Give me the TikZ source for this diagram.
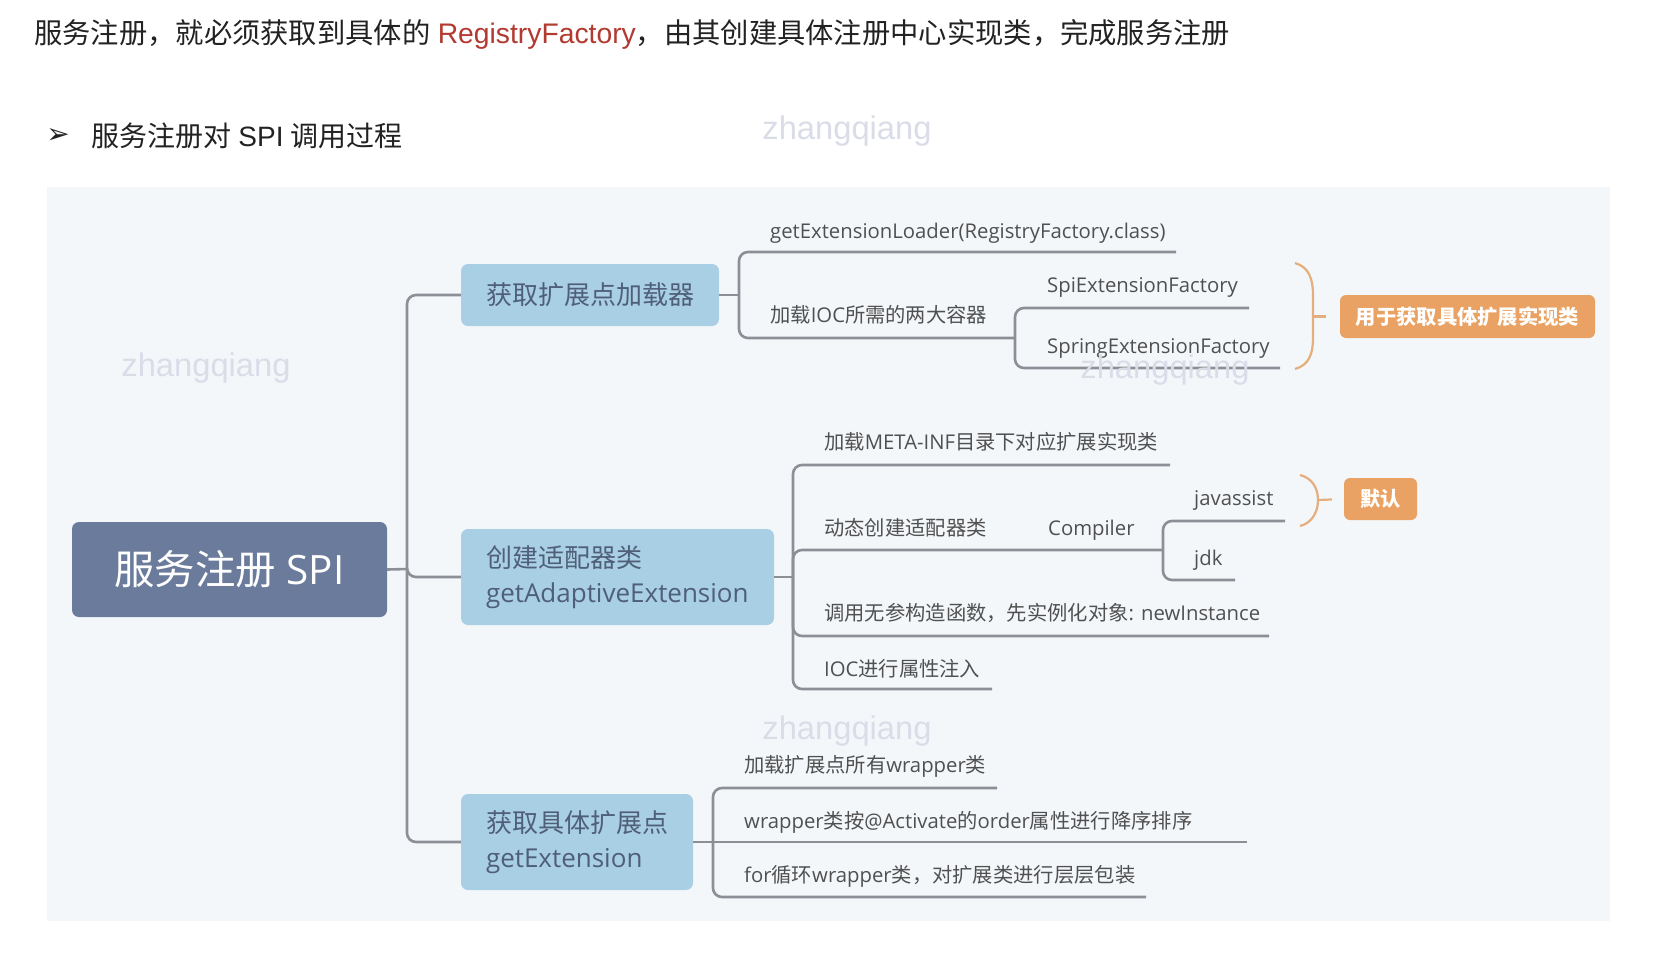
\documentclass[tikz,border=0pt]{standalone}
\usepackage{fontspec}
\setmainfont{Open Sans}
\newfontfamily\cjk{Noto Sans CJK SC}
\newfontfamily\hel{Liberation Sans}
\newfontfamily\dejavu{DejaVu Sans}
\newcommand{\zh}[1]{{\cjk #1}}
\definecolor{panel}{HTML}{F4F7FA}
\definecolor{rootblue}{HTML}{6A7B9B}
\definecolor{lone}{HTML}{A9CFE4}
\definecolor{lonetext}{HTML}{4F5F78}
\definecolor{linegray}{HTML}{8C9096}
\definecolor{leaftext}{HTML}{505050}
\definecolor{orangebox}{HTML}{E9A263}
\definecolor{orangeline}{HTML}{E5AE7E}
\definecolor{regred}{HTML}{B23A30}
\definecolor{titletext}{HTML}{222222}
\definecolor{wm}{HTML}{DADDE8}
\begin{document}
\begin{tikzpicture}[x=1pt,y=-1pt,
  conn/.style={draw=linegray, line width=2.6pt, rounded corners=9pt},
  rootbox/.style={fill=rootblue, rounded corners=7pt, text=white, minimum width=315pt, minimum height=95pt, font=\fontsize{40.4}{46}\selectfont},
  lonebox/.style={fill=lone, rounded corners=7pt, text=lonetext, font=\fontsize{26}{35}\selectfont, align=left, inner xsep=25pt},
  leaf/.style={anchor=west, inner sep=0pt, text=leaftext, font=\fontsize{20.3}{24}\selectfont, text height=15pt, text depth=4pt, yshift=-2.5pt},
  obox/.style={fill=orangebox, rounded corners=6pt, text=white, font=\cjk\bfseries\fontsize{20.3}{24}\selectfont},
  brace/.style={draw=orangeline, line width=2.2pt},
  wmark/.style={text=wm, font=\hel\fontsize{32.7}{36}\selectfont}
]
\useasboundingbox (0,0) rectangle (1676,962);
\fill[white] (0,0) rectangle (1676,962);
\fill[panel] (47,187) rectangle (1610,921);

% title
\node[anchor=west, inner sep=0pt, text=titletext, font=\fontsize{28.3}{33}\selectfont] (title) at (34,34)
  {\zh{服务注册，就必须获取到具体的} {\hel\color{regred}RegistryFactory}\zh{，由其创建具体注册中心实现类，完成服务注册}};
\node[inner sep=0pt, text=titletext, font=\dejavu\fontsize{28}{32}\selectfont] (arrow) at (58,136) {➢};
\node[anchor=west, inner sep=0pt, text=titletext, font=\fontsize{28}{33}\selectfont] (sub) at (91,136)
  {\zh{服务注册对} {\hel SPI} \zh{调用过程}};

% main nodes
\node[rootbox] (r) at (229.5,569.5) {\zh{服务注册} SPI};
\node[lonebox, minimum width=258pt, minimum height=62pt] (n1) at (590,295) {\zh{获取扩展点加载器}};
\node[lonebox, text width=263pt, minimum height=96pt] (n2) at (617.5,577) {\zh{创建适配器类}\\getAdaptiveExtension};
\node[lonebox, text width=182pt, minimum height=96pt] (n3) at (577,842) {\zh{获取具体扩展点}\\getExtension};

\coordinate (f0) at (407,569);
\draw[conn] (r.east) -- (f0);
\draw[conn] (f0) |- (n1.west);
\draw[conn] (f0) |- (n2.west);
\draw[conn] (f0) |- (n3.west);

% tree 1
\coordinate (f1) at (739,295);
\draw[conn] (n1.east) -- (f1);
\node[leaf] (c11) at (770,230) {getExtensionLoader(RegistryFactory.class)};
\coordinate (c11e) at (1176,252);
\draw[conn] (f1) |- (c11e);
\node[leaf] (c12) at (770,314) {\zh{加载}IOC\zh{所需的两大容器}};
\coordinate (f12) at (1015,338);
\draw[conn] (f1) |- (f12);
\node[leaf] (c121) at (1047,284) {SpiExtensionFactory};
\coordinate (c121e) at (1249,308);
\draw[conn] (f12) |- (c121e);
\node[leaf] (c122) at (1047,345) {SpringExtensionFactory};
\coordinate (c122e) at (1280,368);
\draw[conn] (f12) |- (c122e);

\node[obox, minimum width=255pt, minimum height=43pt] (o1) at (1467.5,316.5) {用于获取具体扩展实现类};
\coordinate (b1t) at (1295,263);
\coordinate (b1m) at (1313,316.5);
\coordinate (b1b) at (1295,369);
\draw[brace] (b1t) .. controls (1309,267) and (1313,279) .. (1313,295)
  -- (1313,338) .. controls (1313,354) and (1309,365) .. (b1b);
\draw[brace, shorten >=14pt] (b1m) -- (o1.west);

% tree 2
\coordinate (f2) at (793,577);
\draw[conn] (n2.east) -- (f2);
\node[leaf] (c21) at (824,441) {\zh{加载}META-INF\zh{目录下对应扩展实现类}};
\coordinate (c21e) at (1170,465);
\draw[conn] (f2) |- (c21e);
\node[leaf] (c22) at (824,527) {\zh{动态创建适配器类}};
\node[leaf] (cmp) at (1048,527) {Compiler};
\coordinate (f22) at (1163,550);
\draw[conn] (f2) |- (f22);
\node[leaf] (c221) at (1194,497) {javassist};
\coordinate (c221e) at (1285,521);
\draw[conn] (f22) |- (c221e);
\node[leaf] (c222) at (1194,557) {jdk};
\coordinate (c222e) at (1235,580);
\draw[conn] (f22) |- (c222e);
\node[obox, minimum width=73pt, minimum height=42pt] (o2) at (1380.5,499) {默认};
\coordinate (b2t) at (1300,475);
\coordinate (b2m) at (1318,500);
\coordinate (b2b) at (1300,526);
\draw[brace] (b2t) .. controls (1312,478) and (1318,488) .. (b2m)
  .. controls (1318,512) and (1312,523) .. (b2b);
\draw[brace, shorten >=12pt] (b2m) -- (o2.west);
\node[leaf] (c23) at (824,612) {\zh{调用无参构造函数，先实例化对象}: newInstance};
\coordinate (c23e) at (1269,636);
\draw[conn] (f2) |- (c23e);
\node[leaf] (c24) at (824,668) {IOC\zh{进行属性注入}};
\coordinate (c24e) at (992,689);
\draw[conn] (f2) |- (c24e);

% tree 3
\coordinate (f3) at (713,842);
\node[leaf] (c31) at (744,764) {\zh{加载扩展点所有}wrapper\zh{类}};
\coordinate (c31e) at (997,788);
\draw[conn] (f3) |- (c31e);
\node[leaf] (c32) at (744,820) {wrapper\zh{类按}@Activate\zh{的}order\zh{属性进行降序排序}};
\coordinate (c32e) at (1247,842);
\draw[conn] (n3.east) -- (c32e);
\node[leaf] (c33) at (744,874) {for\zh{循环}wrapper\zh{类，对扩展类进行层层包装}};
\coordinate (c33e) at (1146,897);
\draw[conn] (f3) |- (c33e);

% watermarks
\node[wmark] (w1) at (847,131) {zhangqiang};
\node[wmark] (w2) at (206,368) {zhangqiang};
\node[wmark] (w3) at (1165,370) {zhangqiang};
\node[wmark] (w4) at (847,731) {zhangqiang};
\end{tikzpicture}
\end{document}
